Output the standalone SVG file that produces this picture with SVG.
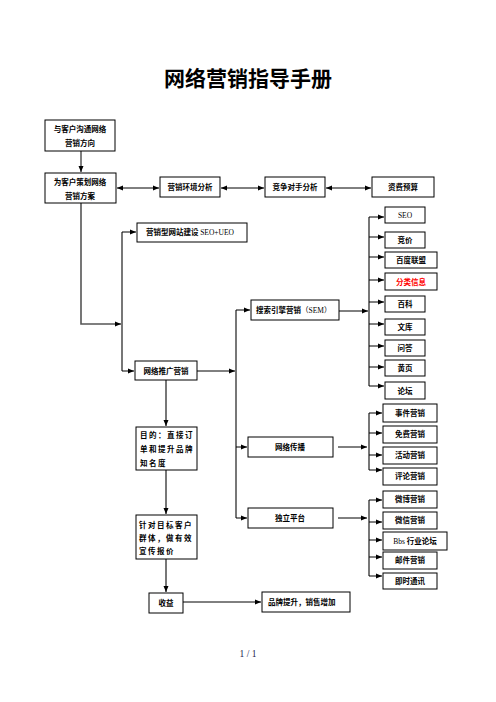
<svg xmlns="http://www.w3.org/2000/svg" width="496" height="702" viewBox="0 0 496 702">
<style>
.b{fill:#fff;stroke:#000;stroke-width:1}
.t{font-family:"Noto Sans CJK SC","Liberation Sans",sans-serif;font-size:7.5px;font-weight:bold;fill:#000}
.m{text-anchor:middle}
.s{font-family:"Liberation Serif","Noto Sans CJK SC",serif;font-weight:normal}
.h{stroke:#000;stroke-width:1;fill:none}
.v{stroke:#555;stroke-width:1.6;fill:none}
</style>
<defs>
<marker id="a" markerUnits="userSpaceOnUse" markerWidth="6" markerHeight="6" refX="6" refY="3" orient="auto-start-reverse"><path d="M0,0.5 L6,3 L0,5.5 Z" fill="#000"/></marker>
</defs>
<rect width="496" height="702" fill="#fff"/>
<text x="248" y="86" font-family="Noto Sans CJK SC,sans-serif" font-size="21" font-weight="bold" text-anchor="middle">网络营销指导手册</text>

<g id="connectors">
<line class="h" x1="81" y1="151" x2="81" y2="172" marker-end="url(#a)"/>
<line class="h" x1="117" y1="188" x2="159" y2="188" marker-start="url(#a)" marker-end="url(#a)"/>
<line class="h" x1="221" y1="188" x2="264" y2="188" marker-start="url(#a)" marker-end="url(#a)"/>
<line class="h" x1="326" y1="188" x2="371" y2="188" marker-start="url(#a)" marker-end="url(#a)"/>
<polyline class="v" points="81,203 81,324 121,324" marker-end="url(#a)"/>
<line class="v" x1="122" y1="232" x2="122" y2="371"/>
<line class="h" x1="122" y1="232" x2="136" y2="232" marker-end="url(#a)"/>
<line class="h" x1="122" y1="371" x2="134" y2="371" marker-end="url(#a)"/>
<line class="h" x1="197" y1="371" x2="235" y2="371" marker-end="url(#a)"/>
<line class="v" x1="236" y1="310" x2="236" y2="518"/>
<line class="h" x1="236" y1="310" x2="250" y2="310" marker-end="url(#a)"/>
<line class="h" x1="236" y1="447" x2="247" y2="447" marker-end="url(#a)"/>
<line class="h" x1="236" y1="518" x2="247" y2="518" marker-end="url(#a)"/>
<line class="v" x1="166" y1="380" x2="166" y2="426" marker-end="url(#a)"/>
<line class="v" x1="166" y1="470" x2="166" y2="514" marker-end="url(#a)"/>
<line class="v" x1="166" y1="559" x2="166" y2="592" marker-end="url(#a)"/>
<line class="h" x1="183" y1="602" x2="261" y2="602" marker-end="url(#a)"/>
<line class="h" x1="339" y1="311" x2="368" y2="311" marker-end="url(#a)"/>
<line class="h" x1="338" y1="447" x2="367" y2="447" marker-end="url(#a)"/>
<line class="h" x1="338" y1="518" x2="367" y2="518" stroke-width="1.4" marker-end="url(#a)"/>
<line class="v" x1="369" y1="217" x2="369" y2="386"/>
<line class="v" x1="369" y1="413" x2="369" y2="470"/>
<line class="v" x1="369" y1="500" x2="369" y2="576"/>
<line class="h" x1="369" y1="217" x2="384" y2="217" marker-end="url(#a)"/>
<line class="h" x1="369" y1="237" x2="384" y2="237" marker-end="url(#a)"/>
<line class="h" x1="369" y1="257" x2="384" y2="257" marker-end="url(#a)"/>
<line class="h" x1="369" y1="280" x2="384" y2="280" marker-end="url(#a)"/>
<line class="h" x1="369" y1="302" x2="384" y2="302" marker-end="url(#a)"/>
<line class="h" x1="369" y1="324" x2="384" y2="324" marker-end="url(#a)"/>
<line class="h" x1="369" y1="346" x2="384" y2="346" marker-end="url(#a)"/>
<line class="h" x1="369" y1="367" x2="384" y2="367" marker-end="url(#a)"/>
<line class="h" x1="369" y1="386" x2="384" y2="386" marker-end="url(#a)"/>
<line class="h" x1="369" y1="413" x2="382" y2="413" marker-end="url(#a)"/>
<line class="h" x1="369" y1="433" x2="382" y2="433" marker-end="url(#a)"/>
<line class="h" x1="369" y1="455" x2="382" y2="455" marker-end="url(#a)"/>
<line class="h" x1="369" y1="470" x2="382" y2="470" marker-end="url(#a)"/>
<line class="h" x1="369" y1="500" x2="382" y2="500" marker-end="url(#a)"/>
<line class="h" x1="369" y1="522" x2="382" y2="522" marker-end="url(#a)"/>
<line class="h" x1="369" y1="540" x2="382" y2="540" marker-end="url(#a)"/>
<line class="h" x1="369" y1="557" x2="382" y2="557" marker-end="url(#a)"/>
<line class="h" x1="369" y1="576" x2="382" y2="576" marker-end="url(#a)"/>
</g>

<g id="n1"><rect class="b" x="45" y="120" width="70" height="31"/><text class="t m" x="80" y="132">与客户沟通网络</text><text class="t m" x="80" y="146">营销方向</text></g>
<g id="n2"><rect class="b" x="45" y="173" width="71" height="30"/><text class="t m" x="80" y="185">为客户策划网络</text><text class="t m" x="80" y="199">营销方案</text></g>
<g id="n3"><rect class="b" x="160" y="177" width="60" height="20"/><text class="t m" x="190" y="190">营销环境分析</text></g>
<g id="n4"><rect class="b" x="265" y="177" width="60" height="20"/><text class="t m" x="295" y="190">竞争对手分析</text></g>
<g id="n5"><rect class="b" x="372" y="177" width="62" height="20"/><text class="t m" x="403" y="190">资费预算</text></g>
<g id="n6"><rect class="b" x="137" y="223" width="110" height="19"/><text class="t" x="146" y="235">营销型网站建设 <tspan class="s">SEO+UEO</tspan></text></g>
<g id="n7"><rect class="b" x="135" y="361" width="62" height="19"/><text class="t m" x="166" y="374">网络推广营销</text></g>
<g id="n8"><rect class="b" x="136" y="427" width="61" height="43"/><text class="t" x="140" y="438" letter-spacing="1.5">目的：直接订</text><text class="t" x="140" y="452" letter-spacing="1.5">单和提升品牌</text><text class="t" x="140" y="466" letter-spacing="1.5">知名度</text></g>
<g id="n9"><rect class="b" x="136" y="515" width="61" height="44"/><text class="t" x="139" y="528" letter-spacing="1.5">针对目标客户</text><text class="t" x="139" y="541" letter-spacing="1.5">群体，做有效</text><text class="t" x="139" y="554" letter-spacing="1.5">宣传报价</text></g>
<g id="n10"><rect class="b" x="149" y="593" width="34" height="20"/><text class="t m" x="166" y="606">收益</text></g>
<g id="n11"><rect class="b" x="262" y="592" width="88" height="20"/><text class="t" x="268" y="605">品牌提升，销售增加</text></g>
<g id="n12"><rect class="b" x="251" y="300" width="88" height="20"/><text class="t" x="256" y="313">搜索引擎营销<tspan class="s">（SEM）</tspan></text></g>
<g id="n13"><rect class="b" x="248" y="437" width="85" height="20"/><text class="t m" x="290" y="450">网络传播</text></g>
<g id="n14"><rect class="b" x="248" y="508" width="85" height="20"/><text class="t m" x="290" y="521">独立平台</text></g>

<g id="n15"><rect class="b" x="385" y="207" width="40" height="16"/><text class="t s m" x="405" y="218">SEO</text></g>
<g id="n16"><rect class="b" x="385" y="232" width="40" height="16"/><text class="t m" x="405" y="243">竞价</text></g>
<g id="n17"><rect class="b" x="385" y="252" width="52" height="16"/><text class="t m" x="411" y="263">百度联盟</text></g>
<g id="n18"><rect class="b" x="385" y="273" width="52" height="17"/><text class="t m" x="411" y="285" style="fill:#f00">分类信息</text></g>
<g id="n19"><rect class="b" x="385" y="296" width="40" height="16"/><text class="t m" x="405" y="307">百科</text></g>
<g id="n20"><rect class="b" x="385" y="319" width="40" height="16"/><text class="t m" x="405" y="330">文库</text></g>
<g id="n21"><rect class="b" x="385" y="340" width="40" height="16"/><text class="t m" x="405" y="351">问答</text></g>
<g id="n22"><rect class="b" x="385" y="360" width="40" height="16"/><text class="t m" x="405" y="371">黄页</text></g>
<g id="n23"><rect class="b" x="385" y="382" width="40" height="17"/><text class="t m" x="405" y="394">论坛</text></g>
<g id="n24"><rect class="b" x="383" y="404" width="54" height="18"/><text class="t m" x="410" y="416">事件营销</text></g>
<g id="n25"><rect class="b" x="383" y="426" width="54" height="17"/><text class="t m" x="410" y="437">免费营销</text></g>
<g id="n26"><rect class="b" x="383" y="447" width="54" height="17"/><text class="t m" x="410" y="458">活动营销</text></g>
<g id="n27"><rect class="b" x="383" y="468" width="54" height="17"/><text class="t m" x="410" y="479">评论营销</text></g>
<g id="n28"><rect class="b" x="383" y="491" width="54" height="17"/><text class="t m" x="410" y="502">微博营销</text></g>
<g id="n29"><rect class="b" x="383" y="512" width="54" height="17"/><text class="t m" x="410" y="523">微信营销</text></g>
<g id="n30"><rect class="b" x="383" y="532" width="64" height="18"/><text class="t m" x="415" y="544"><tspan class="s">Bbs</tspan> 行业论坛</text></g>
<g id="n31"><rect class="b" x="383" y="552" width="54" height="17"/><text class="t m" x="410" y="563">邮件营销</text></g>
<g id="n32"><rect class="b" x="383" y="573" width="54" height="16"/><text class="t m" x="410" y="584">即时通讯</text></g>

<text x="248" y="657" font-family="Liberation Serif,serif" font-size="9.5" fill="#1a1a4a" text-anchor="middle">1 / 1</text>
</svg>
